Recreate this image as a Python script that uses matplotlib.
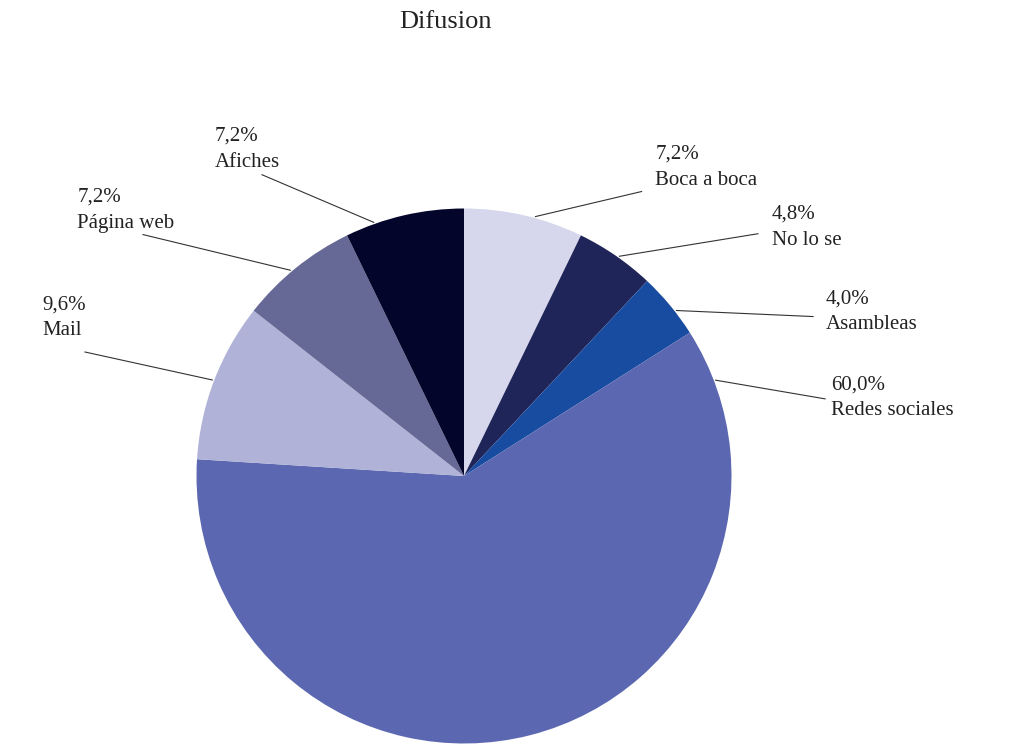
import matplotlib.pyplot as plt
import numpy as np

# data, clockwise from 12 o'clock
categories = ["Boca a boca", "No lo se", "Asambleas", "Redes sociales",
              "Mail", "Página web", "Afiches"]
shares = [7.2, 4.8, 4.0, 60.0, 9.6, 7.2, 7.2]
colors = ["#d6d6ec", "#1f2459", "#184ca0", "#5b67b0",
          "#b0b2d8", "#666996", "#03052b"]

# label layout (pie radius = 1, centre at 0,0)
label_xy = [(0.715, 1.154), (1.150, 0.929), (1.352, 0.614), (1.371, 0.292),
            (-1.577, 0.592), (-1.446, 0.993), (-0.933, 1.221)]
leader_end = [(0.666, 1.064), (1.101, 0.906), (1.307, 0.596), (1.352, 0.288),
              (-1.419, 0.464), (-1.202, 0.903), (-0.757, 1.127)]
leader_angle = [15.3, 35.2, 52.0, 69.1, 290.9, 319.9, 340.5]  # clockwise from top

plt.rcParams["font.family"] = ["Liberation Serif", "DejaVu Serif"]

fig = plt.figure(figsize=(10.18, 7.46), dpi=100)
ax = fig.add_axes([0, 0, 1, 1])

ax.pie(shares, colors=colors, startangle=90, counterclock=False, radius=1.0,
       wedgeprops=dict(linewidth=0))

for name, val, (tx, ty), (ex, ey), ang in zip(categories, shares, label_xy,
                                              leader_end, leader_angle):
    a = np.deg2rad(ang)
    sx, sy = np.sin(a) * 1.005, np.cos(a) * 1.005
    ax.plot([sx, ex], [sy, ey], color="#333333", lw=0.8, solid_capstyle="butt")
    pct = f"{val:.1f}".replace(".", ",") + "%"
    ax.text(tx, ty, f"{pct}\n{name}", ha="left", va="center", fontsize=15,
            color="#222222", linespacing=1.5)

scale = 267.5
cx, cy = 464, 476
ax.set_xlim(-cx / scale, (1018 - cx) / scale)
ax.set_ylim(-(746 - cy) / scale, cy / scale)
ax.set_aspect("auto")
ax.axis("off")

fig.text(445 / 1018, 1 - 22 / 746, "Difusion", ha="center", va="center",
         fontsize=19, color="#222222")

fig.savefig("out.png", dpi=100)
